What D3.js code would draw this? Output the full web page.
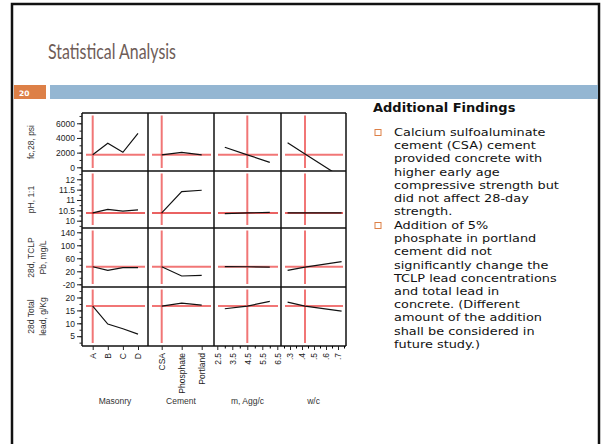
<!DOCTYPE html>
<html><head><meta charset="utf-8">
<script src="https://cdn.jsdelivr.net/npm/d3@7"></script>
<style>html,body{margin:0;padding:0;background:#fff;}svg{display:block;}</style>
</head><body>
<svg id="c" width="602" height="444"></svg>
<script>
// ---- data ----
const rowTitles = [["fc,28, psi"], ["pH, 1:1"], ["28d, TCLP", "Pb, mg/L"], ["28d Total", "lead, g/Kg"]];
const colTitles = ["Masonry", "Cement", "m, Agg/c", "w/c"];
const masonry = ["A", "B", "C", "D"];
const cement = ["CSA", "Phosphate", "Portland"];
const mAgg = [3, 4.5, 6];
const wc = [0.28, 0.425, 0.73];
const mAggTicks = [2.5, 3.5, 4.5, 5.5, 6.5];
const wcTicks = [0.3, 0.4, 0.5, 0.6, 0.7];

const fcMasonry = [1700, 3270, 2045, 4630];
const fcCement = [1700, 2045, 1700];
const fcMAgg = [2730, 1700, 680];
const fcWc = [3350, 1815, -1370];

const phMasonry = [10.375, 10.55, 10.46, 10.52];
const phCement = [10.375, 11.4, 11.47];
const phMAgg = [10.34, 10.375, 10.40];
const phWc = [10.375, 10.375, 10.375];

const pbMasonry = [34, 23, 31, 31];
const pbCement = [34, 5.5, 7.7];
const pbMAgg = [34.5, 34, 33];
const pbWc = [23, 33, 49.5];

const tlMasonry = [16.67, 9.7, 7.9, 5.8];
const tlCement = [16.67, 17.8, 17.05];
const tlMAgg = [15.65, 16.67, 18.5];
const tlWc = [18.2, 16.67, 14.7];

const refY = [1700, 10.375, 34, 16.67];
const refX = ["A", "CSA", 4.5, 0.425];

const yMajor = [[0, 2000, 4000, 6000], [10, 10.5, 11, 11.5, 12], [-20, 20, 60, 100, 140], [5, 10, 15, 20]];
const yMinor = [[0, 1000, 2000, 3000, 4000, 5000, 6000, 7000], [9.75, 10, 10.25, 10.5, 10.75, 11, 11.25, 11.5, 11.75, 12, 12.25], [-20, 0, 20, 40, 60, 80, 100, 120, 140], [2.5, 5, 7.5, 10, 12.5, 15, 17.5, 20, 22.5]];
const yDomains = [[-504, 7403], [9.647, 12.40], [-28.3, 153.2], [1.2, 24.07]];

const series = [
  [fcMasonry, fcCement, fcMAgg, fcWc],
  [phMasonry, phCement, phMAgg, phWc],
  [pbMasonry, pbCement, pbMAgg, pbWc],
  [tlMasonry, tlCement, tlMAgg, tlWc]
];
const xLevels = [masonry, cement, mAgg, wc];

const bullets = [
  ["Calcium sulfoaluminate", "cement (CSA) cement", "provided concrete with", "higher early age", "compressive strength but", "did not affect 28-day", "strength."],
  ["Addition of 5%", "phosphate in portland", "cement did not", "significantly change the", "TCLP lead concentrations", "and total lead in", "concrete. (Different", "amount of the addition", "shall be considered in", "future study.)"]
];

// ---- layout ----
const colX = [82, 148, 214, 281, 346];
const rowY = [113, 171, 228, 287, 346];
const svg = d3.select("#c");
const axisFont = "Liberation Sans, Arial, sans-serif";

// slide frame
svg.append("rect").attr("x", 12).attr("y", 4).attr("width", 587).attr("height", 470)
  .attr("fill", "none").attr("stroke", "#111").attr("stroke-width", 2.5);

// title
svg.append("text").attr("x", 48).attr("y", 59).text("Statistical Analysis")
  .attr("font-family", "Lato, 'DejaVu Sans', sans-serif").attr("font-size", 22)
  .attr("fill", "#6e5c57").attr("textLength", 128).attr("lengthAdjust", "spacingAndGlyphs");

// header band
svg.append("rect").attr("x", 14).attr("y", 85).attr("width", 32).attr("height", 14).attr("fill", "#dd8047");
svg.append("rect").attr("x", 50).attr("y", 85).attr("width", 548).attr("height", 14).attr("fill", "#94b6d2");
svg.append("text").attr("x", 19).attr("y", 95.5).text("20").attr("font-family", "'DejaVu Sans', sans-serif")
  .attr("font-size", 7.5).attr("font-weight", "bold").attr("fill", "#fff");

// scales
const xScales = [
  d3.scalePoint().domain(masonry).range([92.7, 138]),
  d3.scalePoint().domain(cement).range([161.7, 201.7]),
  d3.scaleLinear().domain([2.5, 6.5]).range([217.3, 277.3]),
  d3.scaleLinear().domain([0.3, 0.7]).range([290, 338])
];
const yScales = yDomains.map((d, i) => d3.scaleLinear().domain(d).range([rowY[i + 1], rowY[i]]));

const defs = svg.append("defs");
const gPlot = svg.append("g");

for (let r = 0; r < 4; r++) {
  for (let c = 0; c < 4; c++) {
    const id = `clip${r}${c}`;
    defs.append("clipPath").attr("id", id).append("rect")
      .attr("x", colX[c]).attr("y", rowY[r]).attr("width", colX[c + 1] - colX[c]).attr("height", rowY[r + 1] - rowY[r]);
    const g = gPlot.append("g").attr("clip-path", `url(#${id})`);
    const xs = xScales[c], ys = yScales[r];
    const rx = xs(refX[c]);
    g.append("line").attr("x1", rx).attr("x2", rx).attr("y1", rowY[r] + 2.5).attr("y2", rowY[r + 1] - 3)
      .attr("stroke", "#f06868").attr("stroke-width", 2).attr("opacity", 0.9);
    const ry = ys(refY[r]);
    g.append("line").attr("x1", colX[c] + 4).attr("x2", colX[c + 1] - 3).attr("y1", ry).attr("y2", ry)
      .attr("stroke", r === 1 ? "#e01818" : "#f06868").attr("stroke-width", r === 1 ? 1.4 : 2).attr("opacity", 0.9);
    const pts = xLevels[c].map((lv, i) => [xs(lv), ys(series[r][c][i])]);
    g.append("path").attr("d", d3.line()(pts)).attr("fill", "none").attr("stroke", "#111").attr("stroke-width", 1.2);
  }
}

// grid lines
colX.forEach(x => svg.append("line").attr("x1", x).attr("x2", x).attr("y1", rowY[0]).attr("y2", rowY[4])
  .attr("stroke", "#111").attr("stroke-width", 1.5));
rowY.forEach(y => svg.append("line").attr("x1", colX[0]).attr("x2", colX[4]).attr("y1", y).attr("y2", y)
  .attr("stroke", "#111").attr("stroke-width", 1.5));

// y axes
for (let r = 0; r < 4; r++) {
  const ax = svg.append("g").attr("transform", `translate(${colX[0]},0)`);
  ax.call(d3.axisLeft(yScales[r]).tickValues(yMinor[r]).tickSize(2.5).tickFormat(""));
  const ax2 = svg.append("g").attr("transform", `translate(${colX[0]},0)`);
  ax2.call(d3.axisLeft(yScales[r]).tickValues(yMajor[r]).tickSize(5).tickPadding(2).tickFormat(d => String(d)));
  [ax, ax2].forEach(a => { a.select(".domain").remove(); a.selectAll("line").attr("stroke", "#222"); });
  ax2.selectAll("text").attr("font-family", axisFont).attr("font-size", 8.5).attr("fill", "#222");
  const cy = (rowY[r] + rowY[r + 1]) / 2;
  rowTitles[r].forEach((t, k) => {
    const x = rowTitles[r].length === 1 ? 34 : 34 + k * 12;
    svg.append("text").attr("transform", `translate(${x},${cy}) rotate(-90)`).attr("text-anchor", "middle")
      .attr("font-family", axisFont).attr("font-size", 8.5).attr("fill", "#333").text(t);
  });
}

// x axes
const fmtWc = d => d3.format(".1f")(d).replace(/^0/, "");
for (let c = 0; c < 4; c++) {
  const g = svg.append("g").attr("transform", `translate(0,${rowY[4]})`);
  let axis = d3.axisBottom(xScales[c]).tickSize(4).tickPadding(3);
  if (c === 2) {
    const gm = svg.append("g").attr("transform", `translate(0,${rowY[4]})`);
    gm.call(d3.axisBottom(xScales[c]).tickValues([3, 4, 5, 6]).tickSize(2.5).tickFormat(""));
    gm.select(".domain").remove();
    axis = axis.tickValues(mAggTicks).tickFormat(d3.format(".1f"));
  }
  if (c === 3) {
    const gm = svg.append("g").attr("transform", `translate(0,${rowY[4]})`);
    gm.call(d3.axisBottom(xScales[c]).tickValues([0.25, 0.35, 0.45, 0.55, 0.65, 0.75].filter(v => xScales[3](v) < colX[4])).tickSize(2.5).tickFormat(""));
    gm.select(".domain").remove();
    axis = axis.tickValues(wcTicks).tickFormat(fmtWc);
  }
  g.call(axis);
  g.select(".domain").remove();
  g.selectAll("line").attr("stroke", "#222");
  g.selectAll("text").attr("font-family", axisFont).attr("font-size", 8.5).attr("fill", "#222")
    .attr("transform", "rotate(-90)").attr("text-anchor", "end").attr("dy", "0.32em")
    .attr("x", -7).attr("y", 0);
  svg.append("text").attr("x", (colX[c] + colX[c + 1]) / 2).attr("y", 404).attr("text-anchor", "middle")
    .attr("font-family", axisFont).attr("font-size", 8.5).attr("fill", "#333").text(colTitles[c]);
}

// right text
const tf = "'DejaVu Sans', sans-serif";
svg.append("text").attr("x", 373).attr("y", 112).text("Additional Findings")
  .attr("font-family", tf).attr("font-size", 13).attr("font-weight", "bold").attr("fill", "#111");
const starts = [136, 229];
const lh = 13.2;
bullets.forEach((lines, b) => {
  svg.append("rect").attr("x", 375).attr("y", starts[b] - 6.5).attr("width", 6).attr("height", 6)
    .attr("fill", "none").attr("stroke", "#dd8047").attr("stroke-width", 1);
  lines.forEach((t, i) => svg.append("text")
    .attr("transform", `translate(394,${starts[b] + i * lh}) scale(1.14,1)`).text(t)
    .attr("font-family", tf).attr("font-size", 11.3).attr("fill", "#111"));
});
</script>
</body></html>
